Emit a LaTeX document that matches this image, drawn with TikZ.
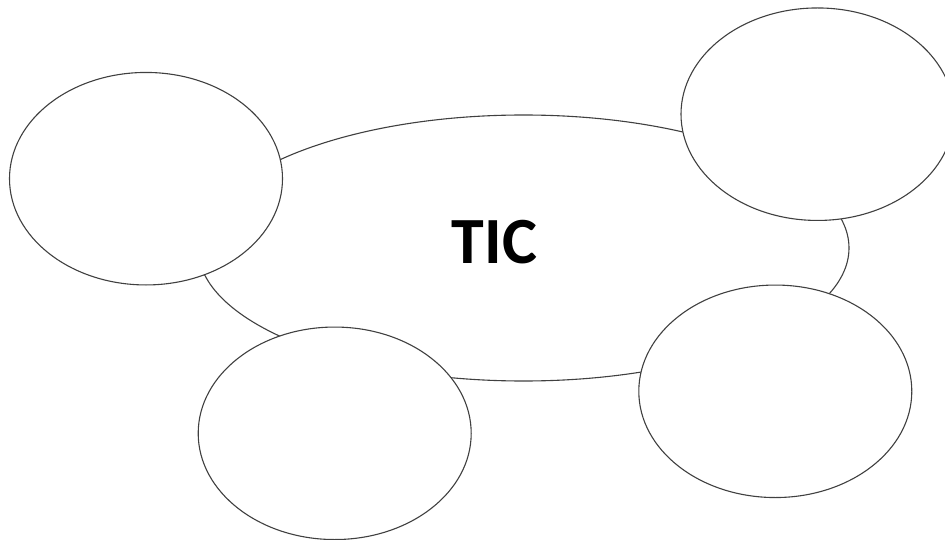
\documentclass[tikz,border=0pt]{standalone}
\usepackage{fontspec}
\setmainfont{Carlito}
\usetikzlibrary{shapes.geometric}
\begin{document}
\begin{tikzpicture}[x=1pt,y=-1pt,
  bubble/.style={ellipse, draw=black!75, line width=1.1pt, fill=white, inner sep=0pt, minimum width=273pt, minimum height=212.5pt},
  hub/.style={ellipse, draw=black!75, line width=1.1pt, fill=white, inner sep=0pt, minimum width=651pt, minimum height=266pt},
  label/.style={font=\bfseries\fontsize{66}{70}\selectfont, inner sep=0pt, anchor=base}]
\useasboundingbox (0,0) rectangle (945,540);
\node[hub] (tic) at (523.5,248) {};
\node[bubble] (left) at (146,178.7) {};
\node[bubble] (topright) at (817.5,114.2) {};
\node[bubble] (bottom) at (334.7,433.3) {};
\node[bubble] (bottomright) at (775.3,391.3) {};
\node[label] (title) at (494.5,263) {TIC};
\end{tikzpicture}
\end{document}
